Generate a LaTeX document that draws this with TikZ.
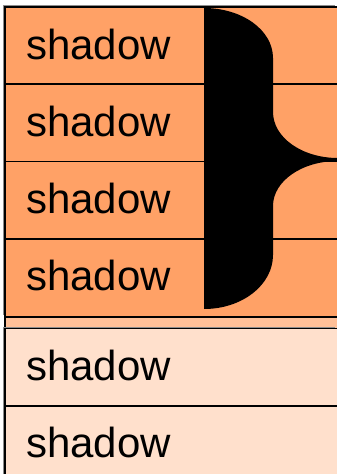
\documentclass[tikz,border=0pt]{standalone}
\usepackage{fontspec}
\setmainfont{Liberation Sans}
\definecolor{orng}{RGB}{255,161,102}
\definecolor{peach}{RGB}{255,224,204}
\definecolor{strip}{RGB}{255,192,152}
\definecolor{shade}{RGB}{140,140,140}
\tikzset{
  boxline/.style={draw=black,line width=1.3pt},
  sepline/.style={draw=black,line width=1.2pt},
  shadowbox/.style={fill=shade},
  lbl/.style={anchor=base west,inner sep=0pt,font=\fontsize{42}{48}\selectfont}
}
\begin{document}
\begin{tikzpicture}[x=1pt,y=-1pt]
\useasboundingbox (0,0) rectangle (337,474);
\fill[white] (0,0) rectangle (337,474);
% orange block
\fill[shadowbox] (3.3,5.3) rectangle (335.3,315.3);
\filldraw[fill=orange!0!orng,boxline] (5,7) rectangle (338,317);
\draw[sepline] (5,84) -- (338,84);
\draw[sepline] (5,161.5) -- (338,161.5);
\draw[sepline] (5,239) -- (338,239);
% strip
\filldraw[fill=strip,boxline] (5,317) rectangle (338,340);
% peach block
\fill[shadowbox] (3.3,326.8) rectangle (335.3,490);
\filldraw[fill=peach,boxline] (5,328.5) rectangle (338,492);
\draw[sepline] (5,406) -- (338,406);
% labels
\node[lbl] (t1) at (26,59) {shadow};
\node[lbl] (t2) at (26,136) {shadow};
\node[lbl] (t3) at (26,213) {shadow};
\node[lbl] (t4) at (26,290.5) {shadow};
\node[lbl] (t5) at (26,380) {shadow};
\node[lbl] (t6) at (26,457) {shadow};
% brace
\fill[black] (204,8) .. controls (242,8) and (273,30) .. (273,58)
  -- (273,112) .. controls (273,137.5) and (302,158) .. (338,158)
  -- (338,161) .. controls (302,161) and (273,181) .. (273,206)
  -- (273,255) .. controls (273,285) and (242,309) .. (204,309) -- cycle;
\end{tikzpicture}
\end{document}
